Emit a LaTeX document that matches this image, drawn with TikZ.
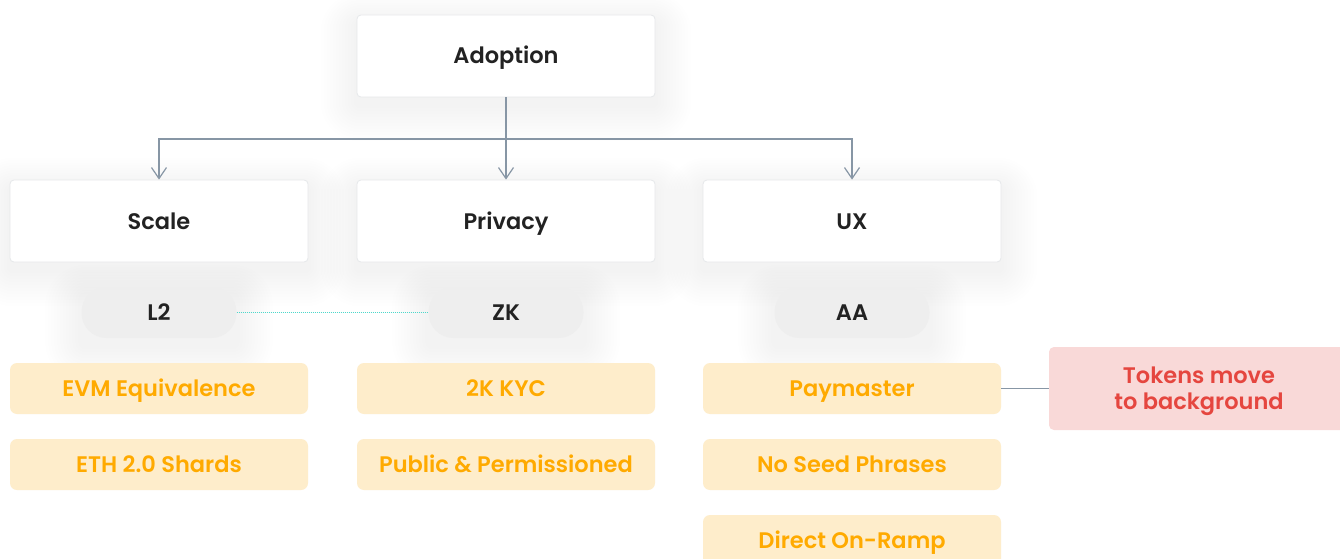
\documentclass[tikz,border=0pt]{standalone}
\usepackage{fontspec}
\setmainfont{Poppins}[BoldFont={Poppins SemiBold}]
\usetikzlibrary{arrows.meta,backgrounds}
\definecolor{boxline}{HTML}{E6E8EA}
\definecolor{darktext}{HTML}{222222}
\definecolor{pillgray}{HTML}{EEEEEE}
\definecolor{itemfill}{HTML}{FEEDCB}
\definecolor{itemtext}{HTML}{FFAA00}
\definecolor{redfill}{HTML}{F9D9D8}
\definecolor{redtext}{HTML}{E5463F}
\definecolor{conn}{HTML}{8796A5}
\definecolor{tealdot}{HTML}{4FD8CB}
\newcommand{\lblfont}{\fontsize{22.5}{26}\selectfont\bfseries}
\begin{document}
\begin{tikzpicture}[x=1pt,y=-1pt,
  whitebox/.style={draw=boxline, fill=white, rounded corners=4pt, inner sep=0pt,
    minimum width=298pt, minimum height=82pt, line width=0.8pt, text=darktext, font=\lblfont,
    text height=16pt, text depth=0pt},
  pill/.style={fill=pillgray, rounded corners=25pt, inner sep=0pt, minimum width=155pt,
    minimum height=51pt, text=darktext, font=\lblfont, text height=16pt, text depth=0pt},
  itembox/.style={fill=itemfill, rounded corners=7pt, inner sep=0pt, minimum width=298pt,
    minimum height=51pt, text=itemtext, font=\lblfont, text height=16pt, text depth=0pt},
  redbox/.style={fill=redfill, rounded corners=5pt, inner sep=0pt, minimum width=300pt,
    minimum height=83pt, text=redtext, font=\lblfont, align=center},
  connector/.style={draw=conn, line width=1.2pt},
  arr/.style={-{Straight Barb[length=11pt,width=15pt,line width=1.2pt]}},
  halo/.style={fill=black, opacity=0.0035}
]
\useasboundingbox (0,0) rectangle (1340,559);

\node[whitebox] (adoption) at (506,56) {Adoption};
\node[whitebox] (scale) at (159,221) {Scale};
\node[whitebox] (privacy) at (506,221) {Privacy};
\node[whitebox] (ux) at (852,221) {UX};

\node[pill] (l2) at (159,312.5) {L2};
\node[pill] (zk) at (506,312.5) {ZK};
\node[pill] (aa) at (852,312.5) {AA};

\node[itembox] (evm) at (159,388.5) {EVM Equivalence};
\node[itembox] (eth) at (159,464.5) {ETH 2.0 Shards};
\node[itembox] (kyc) at (506,388.5) {2K KYC};
\node[itembox] (pub) at (506,464.5) {Public \& Permissioned};
\node[itembox] (pay) at (852,388.5) {Paymaster};
\node[itembox] (seed) at (852,464.5) {No Seed Phrases};
\node[itembox] (ramp) at (852,540.5) {Direct On-Ramp};

\node[redbox] (tokens) at (1199,388.5) {};
\node[text=redtext, font=\lblfont, align=center, inner sep=0pt] (tokenstext) at (1199,391) {Tokens move\\to background};

\begin{scope}[on background layer]
  \fill[white] (0,0) rectangle (1340,559);
  \foreach \n in {adoption,scale,privacy,ux,l2,zk,aa}{
    \foreach \k in {1,...,12}{
      \fill[halo, rounded corners={4pt+\k*3pt}]
        ([xshift={-\k*3pt}, yshift={\k*2.5pt-8pt}]\n.north west) rectangle
        ([xshift={\k*3pt}, yshift={-\k*3pt-8pt}]\n.south east);
    }
  }
\end{scope}

\coordinate (hub) at (506,139);
\draw[connector] (adoption.south) -- (hub);
\draw[connector,arr] (adoption.south) -- (privacy.north);
\draw[connector,arr] (hub) -| (scale.north);
\draw[connector,arr] (hub) -| (ux.north);

\draw[draw=tealdot, line width=1.3pt, dash pattern=on 1pt off 1pt] (l2.east) -- (zk.west);
\draw[connector] (pay.east) -- (tokens.west);
\end{tikzpicture}
\end{document}
